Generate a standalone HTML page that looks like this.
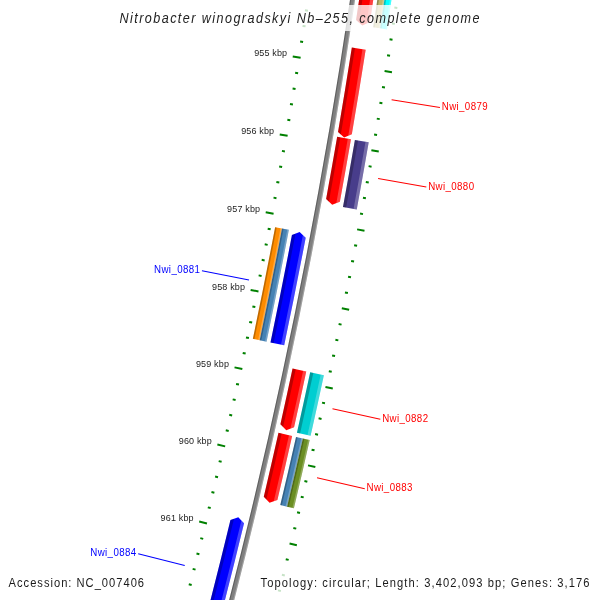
<!DOCTYPE html>
<html><head><meta charset="utf-8"><style>html,body{margin:0;padding:0;background:#fff;width:600px;height:600px;overflow:hidden}svg{display:block;will-change:transform}text{font-family:"Liberation Sans",sans-serif}</style></head>
<body><svg width="600" height="600" viewBox="0 0 600 600" font-family="Liberation Sans, sans-serif"><clipPath id="c1"><path d="M363.16,-93.85 A5959.50,5959.50 0 0 1 195.50,725.81 L200.31,727.15 A5964.50,5964.50 0 0 0 368.11,-93.19 Z"/></clipPath><path d="M363.16,-93.85 A5959.50,5959.50 0 0 1 195.50,725.81 L200.31,727.15 A5964.50,5964.50 0 0 0 368.11,-93.19 Z" fill="#808080"/><g clip-path="url(#c1)"><path d="M364.24,-109.79 A5958.50,5958.50 0 0 1 190.23,740.89 L192.30,741.48 A5960.65,5960.65 0 0 0 366.37,-109.52 Z" fill="#000" fill-opacity="0.25"/><path d="M369.05,-109.17 A5963.35,5963.35 0 0 1 194.90,742.21 L196.97,742.79 A5965.50,5965.50 0 0 0 371.18,-108.89 Z" fill="#fff" fill-opacity="0.25"/></g>
<path d="M304.67,-21.80 L312.59,-20.64 M396.70,-8.37 L404.12,-7.29 M307.31,-5.41 L310.28,-4.97 M394.36,7.53 L397.33,7.97 M304.97,10.25 L307.93,10.70 M391.97,23.42 L394.94,23.87 M302.57,25.90 L305.54,26.36 M389.55,39.31 L392.51,39.76 M300.14,41.55 L303.10,42.01 M387.08,55.18 L390.04,55.65 M292.73,56.40 L300.63,57.66 M384.57,71.06 L391.97,72.24 M295.15,72.82 L298.11,73.30 M382.01,86.92 L384.97,87.40 M292.59,88.44 L295.55,88.93 M379.42,102.78 L382.38,103.27 M289.99,104.06 L292.95,104.56 M376.78,118.63 L379.74,119.13 M287.35,119.68 L290.31,120.18 M374.10,134.48 L377.05,134.98 M279.74,134.43 L287.62,135.79 M371.37,150.31 L378.76,151.59 M281.94,150.88 L284.89,151.40 M368.61,166.14 L371.56,166.66 M279.17,166.47 L282.13,167.00 M365.80,181.96 L368.75,182.49 M276.36,182.05 L279.32,182.59 M362.95,197.78 L365.90,198.31 M273.51,197.63 L276.46,198.17 M360.05,213.58 L363.00,214.13 M265.71,212.27 L273.57,213.74 M357.12,229.38 L364.49,230.76 M267.69,228.75 L270.63,229.31 M354.14,245.17 L357.09,245.73 M264.71,244.30 L267.66,244.87 M351.12,260.96 L354.07,261.53 M261.69,259.85 L264.64,260.42 M348.06,276.73 L351.00,277.31 M258.63,275.38 L261.58,275.97 M344.95,292.50 L347.90,293.08 M250.63,289.93 L258.48,291.50 M341.81,308.26 L349.16,309.74 M252.39,306.43 L255.33,307.03 M338.62,324.01 L341.56,324.61 M249.21,321.94 L252.15,322.55 M335.39,339.75 L338.33,340.36 M245.98,337.44 L248.92,338.06 M332.11,355.48 L335.05,356.10 M242.72,352.94 L245.65,353.56 M328.80,371.21 L331.73,371.83 M234.52,367.37 L242.34,369.05 M325.44,386.92 L332.78,388.50 M236.06,383.90 L238.99,384.53 M322.04,402.63 L324.97,403.26 M232.67,399.36 L235.60,400.01 M318.60,418.32 L321.53,418.97 M229.24,414.82 L232.16,415.47 M315.12,434.01 L318.05,434.66 M225.76,430.27 L228.69,430.93 M311.59,449.69 L314.52,450.35 M217.37,444.59 L225.17,446.38 M308.03,465.36 L315.34,467.03 M218.69,461.14 L221.62,461.81 M304.42,481.01 L307.34,481.69 M215.10,476.56 L218.02,477.24 M300.77,496.66 L303.69,497.35 M211.46,491.97 L214.38,492.66 M297.07,512.30 L299.99,513.00 M207.78,507.37 L210.69,508.07 M293.34,527.93 L296.26,528.63 M199.20,521.58 L206.97,523.47 M289.56,543.55 L296.85,545.32 M200.29,538.14 L203.21,538.85 M285.75,559.16 L288.66,559.88 M196.49,553.51 L199.40,554.23 M281.89,574.76 L284.80,575.48 M192.65,568.87 L195.55,569.60 M277.98,590.35 L280.89,591.08 M188.76,584.22 L191.67,584.96 M274.04,605.93 L276.95,606.67" stroke="#008000" stroke-width="2" fill="none"/>
<clipPath id="c2"><path d="M368.89,-68.92 A5968.50,5968.50 0 0 1 356.09,19.93 L362.34,25.40 L369.93,22.03 A5982.50,5982.50 0 0 0 382.76,-67.03 Z"/></clipPath><path d="M368.89,-68.92 A5968.50,5968.50 0 0 1 356.09,19.93 L362.34,25.40 L369.93,22.03 A5982.50,5982.50 0 0 0 382.76,-67.03 Z" fill="#ff0000"/><g clip-path="url(#c2)"><path d="M370.04,-84.89 A5967.50,5967.50 0 0 1 352.00,39.98 L356.17,40.63 A5971.72,5971.72 0 0 0 374.22,-84.33 Z" fill="#000" fill-opacity="0.25"/><path d="M381.71,-83.32 A5979.28,5979.28 0 0 1 363.64,41.79 L367.81,42.44 A5983.50,5983.50 0 0 0 385.89,-82.77 Z" fill="#fff" fill-opacity="0.25"/></g>
<clipPath id="c3"><path d="M386.72,-66.49 A5986.50,5986.50 0 0 1 373.18,27.30 L380.10,28.36 A5993.50,5993.50 0 0 0 393.66,-65.55 Z"/></clipPath><path d="M386.72,-66.49 A5986.50,5986.50 0 0 1 373.18,27.30 L380.10,28.36 A5993.50,5993.50 0 0 0 393.66,-65.55 Z" fill="#bdb76b"/><g clip-path="url(#c3)"><path d="M387.88,-82.50 A5985.50,5985.50 0 0 1 369.75,42.98 L372.33,43.38 A5988.11,5988.11 0 0 0 390.46,-82.16 Z" fill="#000" fill-opacity="0.25"/><path d="M394.21,-81.65 A5991.89,5991.89 0 0 1 376.07,43.96 L378.65,44.36 A5994.50,5994.50 0 0 0 396.80,-81.31 Z" fill="#fff" fill-opacity="0.25"/></g>
<clipPath id="c4"><path d="M393.66,-65.55 A5993.50,5993.50 0 0 1 380.10,28.36 L387.02,29.41 A6000.50,6000.50 0 0 0 400.60,-64.60 Z"/></clipPath><path d="M393.66,-65.55 A5993.50,5993.50 0 0 1 380.10,28.36 L387.02,29.41 A6000.50,6000.50 0 0 0 400.60,-64.60 Z" fill="#00ffff"/><g clip-path="url(#c4)"><path d="M394.81,-81.57 A5992.50,5992.50 0 0 1 376.67,44.06 L379.25,44.46 A5995.11,5995.11 0 0 0 397.40,-81.23 Z" fill="#000" fill-opacity="0.25"/><path d="M401.15,-80.73 A5998.89,5998.89 0 0 1 382.98,45.04 L385.56,45.44 A6001.50,6001.50 0 0 0 403.74,-80.38 Z" fill="#fff" fill-opacity="0.25"/></g>
<clipPath id="c5"><path d="M351.83,47.55 A5968.50,5968.50 0 0 1 338.02,131.88 L344.16,137.48 L351.82,134.25 A5982.50,5982.50 0 0 0 365.67,49.72 Z"/></clipPath><path d="M351.83,47.55 A5968.50,5968.50 0 0 1 338.02,131.88 L344.16,137.48 L351.82,134.25 A5982.50,5982.50 0 0 0 365.67,49.72 Z" fill="#ff0000"/><g clip-path="url(#c5)"><path d="M353.29,31.62 A5967.50,5967.50 0 0 1 333.55,151.86 L337.70,152.59 A5971.72,5971.72 0 0 0 357.47,32.26 Z" fill="#000" fill-opacity="0.25"/><path d="M364.94,33.41 A5979.28,5979.28 0 0 1 345.15,153.89 L349.31,154.61 A5983.50,5983.50 0 0 0 369.11,34.05 Z" fill="#fff" fill-opacity="0.25"/></g>
<clipPath id="c6"><path d="M337.17,136.84 A5968.50,5968.50 0 0 1 326.11,199.12 L332.19,204.79 L339.88,201.64 A5982.50,5982.50 0 0 0 350.96,139.22 Z"/></clipPath><path d="M337.17,136.84 A5968.50,5968.50 0 0 1 326.11,199.12 L332.19,204.79 L339.88,201.64 A5982.50,5982.50 0 0 0 350.96,139.22 Z" fill="#ff0000"/><g clip-path="url(#c6)"><path d="M338.87,120.93 A5967.50,5967.50 0 0 1 321.41,219.04 L325.56,219.82 A5971.72,5971.72 0 0 0 343.03,121.64 Z" fill="#000" fill-opacity="0.25"/><path d="M350.48,122.90 A5979.28,5979.28 0 0 1 332.99,221.20 L337.14,221.98 A5983.50,5983.50 0 0 0 354.64,123.60 Z" fill="#fff" fill-opacity="0.25"/></g>
<clipPath id="c7"><path d="M354.90,139.90 A5986.50,5986.50 0 0 1 342.98,206.93 L356.74,209.46 A6000.50,6000.50 0 0 0 368.70,142.27 Z"/></clipPath><path d="M354.90,139.90 A5986.50,5986.50 0 0 1 342.98,206.93 L356.74,209.46 A6000.50,6000.50 0 0 0 368.70,142.27 Z" fill="#483d8b"/><g clip-path="url(#c7)"><path d="M356.61,123.94 A5985.50,5985.50 0 0 1 339.07,222.50 L343.22,223.28 A5989.72,5989.72 0 0 0 360.78,124.64 Z" fill="#000" fill-opacity="0.25"/><path d="M368.23,125.90 A5997.28,5997.28 0 0 1 350.66,224.66 L354.80,225.44 A6001.50,6001.50 0 0 0 372.39,126.61 Z" fill="#fff" fill-opacity="0.25"/></g>
<clipPath id="c8"><path d="M270.49,342.41 A5941.50,5941.50 0 0 0 291.94,235.06 L299.64,231.99 L305.69,237.67 A5955.50,5955.50 0 0 1 284.19,345.28 Z"/></clipPath><path d="M270.49,342.41 A5941.50,5941.50 0 0 0 291.94,235.06 L299.64,231.99 L305.69,237.67 A5955.50,5955.50 0 0 1 284.19,345.28 Z" fill="#0000ff"/><g clip-path="url(#c8)"><path d="M294.72,214.87 A5940.50,5940.50 0 0 1 266.23,357.76 L270.36,358.64 A5944.72,5944.72 0 0 0 298.87,215.65 Z" fill="#000" fill-opacity="0.25"/><path d="M306.30,217.04 A5952.28,5952.28 0 0 1 277.75,360.21 L281.88,361.08 A5956.50,5956.50 0 0 0 310.45,217.81 Z" fill="#fff" fill-opacity="0.25"/></g>
<clipPath id="c9"><path d="M275.11,227.18 A5923.50,5923.50 0 0 1 252.85,338.80 L259.70,340.23 A5930.50,5930.50 0 0 0 281.99,228.48 Z"/></clipPath><path d="M275.11,227.18 A5923.50,5923.50 0 0 1 252.85,338.80 L259.70,340.23 A5930.50,5930.50 0 0 0 281.99,228.48 Z" fill="#ff8c00"/><g clip-path="url(#c9)"><path d="M277.06,211.41 A5922.50,5922.50 0 0 1 248.60,354.10 L251.16,354.65 A5925.11,5925.11 0 0 0 279.62,211.89 Z" fill="#000" fill-opacity="0.25"/><path d="M283.34,212.59 A5928.89,5928.89 0 0 1 254.85,355.43 L257.41,355.97 A5931.50,5931.50 0 0 0 285.90,213.07 Z" fill="#fff" fill-opacity="0.25"/></g>
<clipPath id="c10"><path d="M281.99,228.48 A5930.50,5930.50 0 0 1 259.70,340.23 L266.55,341.67 A5937.50,5937.50 0 0 0 288.87,229.78 Z"/></clipPath><path d="M281.99,228.48 A5930.50,5930.50 0 0 1 259.70,340.23 L266.55,341.67 A5937.50,5937.50 0 0 0 288.87,229.78 Z" fill="#4682b4"/><g clip-path="url(#c10)"><path d="M283.94,212.70 A5929.50,5929.50 0 0 1 255.45,355.56 L258.00,356.10 A5932.11,5932.11 0 0 0 286.50,213.18 Z" fill="#000" fill-opacity="0.25"/><path d="M290.22,213.87 A5935.89,5935.89 0 0 1 261.70,356.88 L264.25,357.43 A5938.50,5938.50 0 0 0 292.78,214.35 Z" fill="#fff" fill-opacity="0.25"/></g>
<clipPath id="c11"><path d="M292.55,368.57 A5968.50,5968.50 0 0 1 280.40,424.29 L286.26,430.18 L294.07,427.34 A5982.50,5982.50 0 0 0 306.25,371.49 Z"/></clipPath><path d="M292.55,368.57 A5968.50,5968.50 0 0 1 280.40,424.29 L286.26,430.18 L294.07,427.34 A5982.50,5982.50 0 0 0 306.25,371.49 Z" fill="#ff0000"/><g clip-path="url(#c11)"><path d="M294.88,352.74 A5967.50,5967.50 0 0 1 274.94,444.01 L279.06,444.95 A5971.72,5971.72 0 0 0 299.01,353.61 Z" fill="#000" fill-opacity="0.25"/><path d="M306.41,355.17 A5979.28,5979.28 0 0 1 286.43,446.62 L290.55,447.55 A5983.50,5983.50 0 0 0 310.54,356.03 Z" fill="#fff" fill-opacity="0.25"/></g>
<clipPath id="c12"><path d="M310.18,372.25 A5986.50,5986.50 0 0 1 296.96,432.74 L310.62,435.80 A6000.50,6000.50 0 0 0 323.87,375.17 Z"/></clipPath><path d="M310.18,372.25 A5986.50,5986.50 0 0 1 296.96,432.74 L310.62,435.80 A6000.50,6000.50 0 0 0 323.87,375.17 Z" fill="#00ced1"/><g clip-path="url(#c12)"><path d="M312.51,356.37 A5985.50,5985.50 0 0 1 292.46,448.15 L296.58,449.08 A5989.72,5989.72 0 0 0 316.64,357.24 Z" fill="#000" fill-opacity="0.25"/><path d="M324.04,358.79 A5997.28,5997.28 0 0 1 303.95,450.76 L308.06,451.69 A6001.50,6001.50 0 0 0 328.17,359.66 Z" fill="#fff" fill-opacity="0.25"/></g>
<clipPath id="c13"><path d="M278.48,432.86 A5968.50,5968.50 0 0 1 263.78,496.68 L269.56,502.64 L277.40,499.90 A5982.50,5982.50 0 0 0 292.14,435.93 Z"/></clipPath><path d="M278.48,432.86 A5968.50,5968.50 0 0 1 263.78,496.68 L269.56,502.64 L277.40,499.90 A5982.50,5982.50 0 0 0 292.14,435.93 Z" fill="#ff0000"/><g clip-path="url(#c13)"><path d="M280.99,417.06 A5967.50,5967.50 0 0 1 258.07,516.33 L262.18,517.32 A5971.72,5971.72 0 0 0 285.11,417.97 Z" fill="#000" fill-opacity="0.25"/><path d="M292.49,419.61 A5979.28,5979.28 0 0 1 269.53,519.08 L273.63,520.07 A5983.50,5983.50 0 0 0 296.61,420.52 Z" fill="#fff" fill-opacity="0.25"/></g>
<clipPath id="c14"><path d="M296.03,436.88 A5986.50,5986.50 0 0 1 280.28,505.10 L287.09,506.72 A5993.50,5993.50 0 0 0 302.86,438.42 Z"/></clipPath><path d="M296.03,436.88 A5986.50,5986.50 0 0 1 280.28,505.10 L287.09,506.72 A5993.50,5993.50 0 0 0 302.86,438.42 Z" fill="#4682b4"/><g clip-path="url(#c14)"><path d="M298.54,421.03 A5985.50,5985.50 0 0 1 275.60,520.45 L278.13,521.06 A5988.11,5988.11 0 0 0 301.09,421.60 Z" fill="#000" fill-opacity="0.25"/><path d="M304.78,422.42 A5991.89,5991.89 0 0 1 281.81,521.94 L284.35,522.55 A5994.50,5994.50 0 0 0 307.33,422.98 Z" fill="#fff" fill-opacity="0.25"/></g>
<clipPath id="c15"><path d="M302.86,438.42 A5993.50,5993.50 0 0 1 287.09,506.72 L293.91,508.33 A6000.50,6000.50 0 0 0 309.69,439.95 Z"/></clipPath><path d="M302.86,438.42 A5993.50,5993.50 0 0 1 287.09,506.72 L293.91,508.33 A6000.50,6000.50 0 0 0 309.69,439.95 Z" fill="#6b8e23"/><g clip-path="url(#c15)"><path d="M305.38,422.55 A5992.50,5992.50 0 0 1 282.40,522.09 L284.94,522.70 A5995.11,5995.11 0 0 0 307.93,423.11 Z" fill="#000" fill-opacity="0.25"/><path d="M311.62,423.93 A5998.89,5998.89 0 0 1 288.62,523.58 L291.15,524.19 A6001.50,6001.50 0 0 0 314.16,424.50 Z" fill="#fff" fill-opacity="0.25"/></g>
<clipPath id="c16"><path d="M202.37,631.49 A5941.50,5941.50 0 0 0 230.45,520.01 L238.29,517.32 L244.05,523.30 A5955.50,5955.50 0 0 1 215.91,635.04 Z"/></clipPath><path d="M202.37,631.49 A5941.50,5941.50 0 0 0 230.45,520.01 L238.29,517.32 L244.05,523.30 A5955.50,5955.50 0 0 1 215.91,635.04 Z" fill="#0000ff"/><g clip-path="url(#c16)"><path d="M234.22,499.99 A5940.50,5940.50 0 0 1 197.35,646.61 L201.43,647.69 A5944.72,5944.72 0 0 0 238.32,500.96 Z" fill="#000" fill-opacity="0.25"/><path d="M245.68,502.71 A5952.28,5952.28 0 0 1 208.73,649.63 L212.81,650.71 A5956.50,5956.50 0 0 0 249.78,503.69 Z" fill="#fff" fill-opacity="0.25"/></g>
<text x="299.07" y="-22.20" text-anchor="end" font-size="9" fill="#222" textLength="33" lengthAdjust="spacing">954 kbp</text>
<text x="287.13" y="56.00" text-anchor="end" font-size="9" fill="#222" textLength="33" lengthAdjust="spacing">955 kbp</text>
<text x="274.14" y="134.03" text-anchor="end" font-size="9" fill="#222" textLength="33" lengthAdjust="spacing">956 kbp</text>
<text x="260.11" y="211.87" text-anchor="end" font-size="9" fill="#222" textLength="33" lengthAdjust="spacing">957 kbp</text>
<text x="245.03" y="289.53" text-anchor="end" font-size="9" fill="#222" textLength="33" lengthAdjust="spacing">958 kbp</text>
<text x="228.92" y="366.97" text-anchor="end" font-size="9" fill="#222" textLength="33" lengthAdjust="spacing">959 kbp</text>
<text x="211.77" y="444.19" text-anchor="end" font-size="9" fill="#222" textLength="33" lengthAdjust="spacing">960 kbp</text>
<text x="193.60" y="521.18" text-anchor="end" font-size="9" fill="#222" textLength="33" lengthAdjust="spacing">961 kbp</text>
<path d="M391.59,99.65 L439.94,107.59" stroke="#ff0000" stroke-width="1.05"/>
<text transform="translate(441.74,110.09) scale(0.9,1)" font-size="10.8" fill="#ff0000" textLength="51" lengthAdjust="spacing">Nwi_0879</text>
<path d="M378.09,178.52 L426.34,187.10" stroke="#ff0000" stroke-width="1.05"/>
<text transform="translate(428.14,189.60) scale(0.9,1)" font-size="10.8" fill="#ff0000" textLength="51" lengthAdjust="spacing">Nwi_0880</text>
<path d="M249.03,280.09 L201.96,270.70" stroke="#0000ff" stroke-width="1.05"/>
<text transform="translate(199.96,272.50) scale(0.9,1)" font-size="10.8" fill="#0000ff" text-anchor="end" textLength="51" lengthAdjust="spacing">Nwi_0881</text>
<path d="M332.47,408.77 L380.34,419.23" stroke="#ff0000" stroke-width="1.05"/>
<text transform="translate(382.14,421.73) scale(0.9,1)" font-size="10.8" fill="#ff0000" textLength="51" lengthAdjust="spacing">Nwi_0882</text>
<path d="M317.00,477.65 L364.74,488.67" stroke="#ff0000" stroke-width="1.05"/>
<text transform="translate(366.54,491.17) scale(0.9,1)" font-size="10.8" fill="#ff0000" textLength="51" lengthAdjust="spacing">Nwi_0883</text>
<path d="M184.73,565.49 L138.18,553.78" stroke="#0000ff" stroke-width="1.05"/>
<text transform="translate(136.18,555.58) scale(0.9,1)" font-size="10.8" fill="#0000ff" text-anchor="end" textLength="51" lengthAdjust="spacing">Nwi_0884</text>
<rect x="112" y="5" width="376" height="26" fill="#fff" fill-opacity="0.78"/>
<text transform="translate(119.5,22.8) scale(0.9,1)" x="0" y="0" font-size="14" font-style="italic" fill="#222" textLength="400" lengthAdjust="spacing">Nitrobacter winogradskyi Nb–255, complete genome</text>
<rect x="4" y="570" width="146" height="25" fill="#fff" fill-opacity="0.78"/>
<text transform="translate(8.6,586.9) scale(0.9,1)" font-size="12.4" fill="#1a1a1a" textLength="150.5" lengthAdjust="spacing">Accession: NC_007406</text>
<rect x="256" y="570" width="340" height="25" fill="#fff" fill-opacity="0.78"/>
<text transform="translate(260.6,587) scale(0.9,1)" font-size="12.4" fill="#1a1a1a" textLength="365.5" lengthAdjust="spacing">Topology: circular; Length: 3,402,093 bp; Genes: 3,176</text></svg></body></html>
